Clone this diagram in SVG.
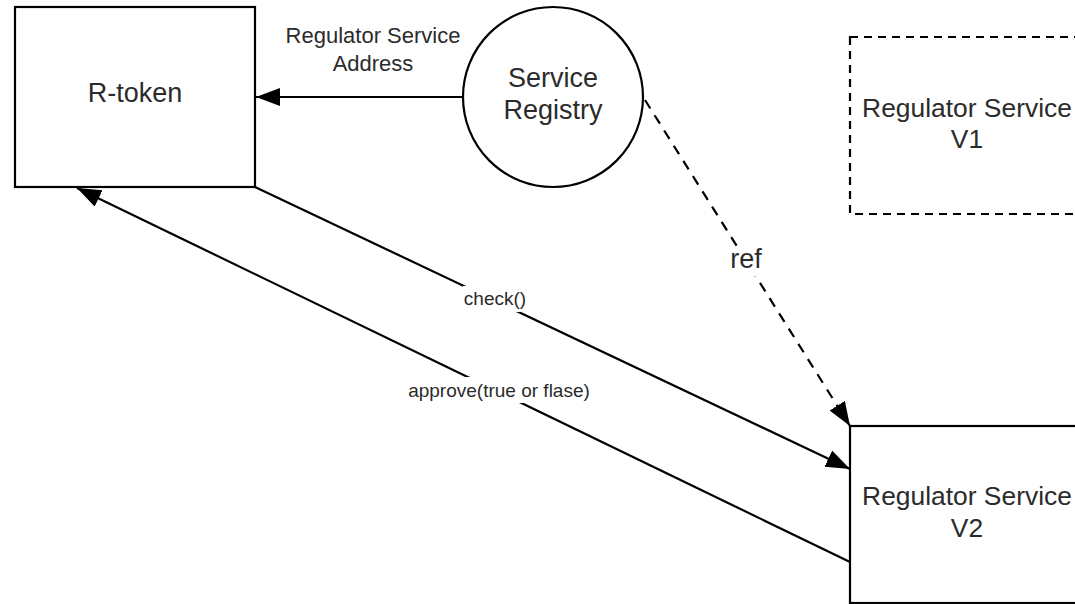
<svg xmlns="http://www.w3.org/2000/svg" width="1075" height="604" viewBox="0 0 1075 604">
  <defs>
    <marker id="arrow" markerUnits="userSpaceOnUse" markerWidth="26" markerHeight="20" refX="24" refY="9" orient="auto">
      <path d="M0,0 L24,9 L0,18 z" fill="#000"/>
    </marker>
    <style>
      .box { fill: #fff; stroke: #000; stroke-width: 2.2; }
      .dbox { fill: none; stroke: #000; stroke-width: 2.2; stroke-dasharray: 8 6; }
      .edge { fill: none; stroke: #000; stroke-width: 2.2; }
      .dedge { fill: none; stroke: #000; stroke-width: 2.2; stroke-dasharray: 10 8; }
      text { font-family: "Liberation Sans", Arial, sans-serif; fill: #2b2b2b; text-anchor: middle; }
      .big { font-size: 27px; }
      .rs { font-size: 26.4px; }
      .mid { font-size: 22px; }
      .small { font-size: 19px; }
      .lbg { fill: #fff; }
    </style>
  </defs>

  <g id="connectors">
    <line class="edge" x1="462" y1="97" x2="256" y2="97" marker-end="url(#arrow)"/>
    <line class="edge" x1="255" y1="187" x2="850" y2="469" marker-end="url(#arrow)"/>
    <line class="edge" x1="850" y1="562" x2="77" y2="188" marker-end="url(#arrow)"/>
    <line class="dedge" x1="645" y1="100" x2="850" y2="426" marker-end="url(#arrow)"/>
    <rect class="lbg" x="463" y="286" width="64" height="26"/>
    <text class="small" x="495" y="305">check()</text>
    <rect class="lbg" x="404" y="377" width="190" height="26"/>
    <text class="small" x="499" y="397">approve(true or flase)</text>
    <rect class="lbg" x="728" y="246" width="36" height="30"/>
    <text class="big" x="746" y="268">ref</text>
    <text class="mid" x="373" y="43">Regulator Service</text>
    <text class="mid" x="373" y="71">Address</text>
  </g>

  <g id="r-token">
    <rect class="box" x="15" y="7" width="240" height="180"/>
    <text class="big" x="135" y="102">R-token</text>
  </g>

  <g id="service-registry">
    <circle class="box" cx="553" cy="97" r="90"/>
    <text class="big" x="553" y="87">Service</text>
    <text class="big" x="553" y="119">Registry</text>
  </g>

  <g id="regulator-v1">
    <rect class="dbox" x="850" y="37" width="240" height="177"/>
    <text class="rs" x="967" y="117">Regulator Service</text>
    <text class="rs" x="967" y="148">V1</text>
  </g>

  <g id="regulator-v2">
    <rect class="box" x="850" y="426" width="240" height="177"/>
    <text class="rs" x="967" y="505">Regulator Service</text>
    <text class="rs" x="967" y="537">V2</text>
  </g>
</svg>
